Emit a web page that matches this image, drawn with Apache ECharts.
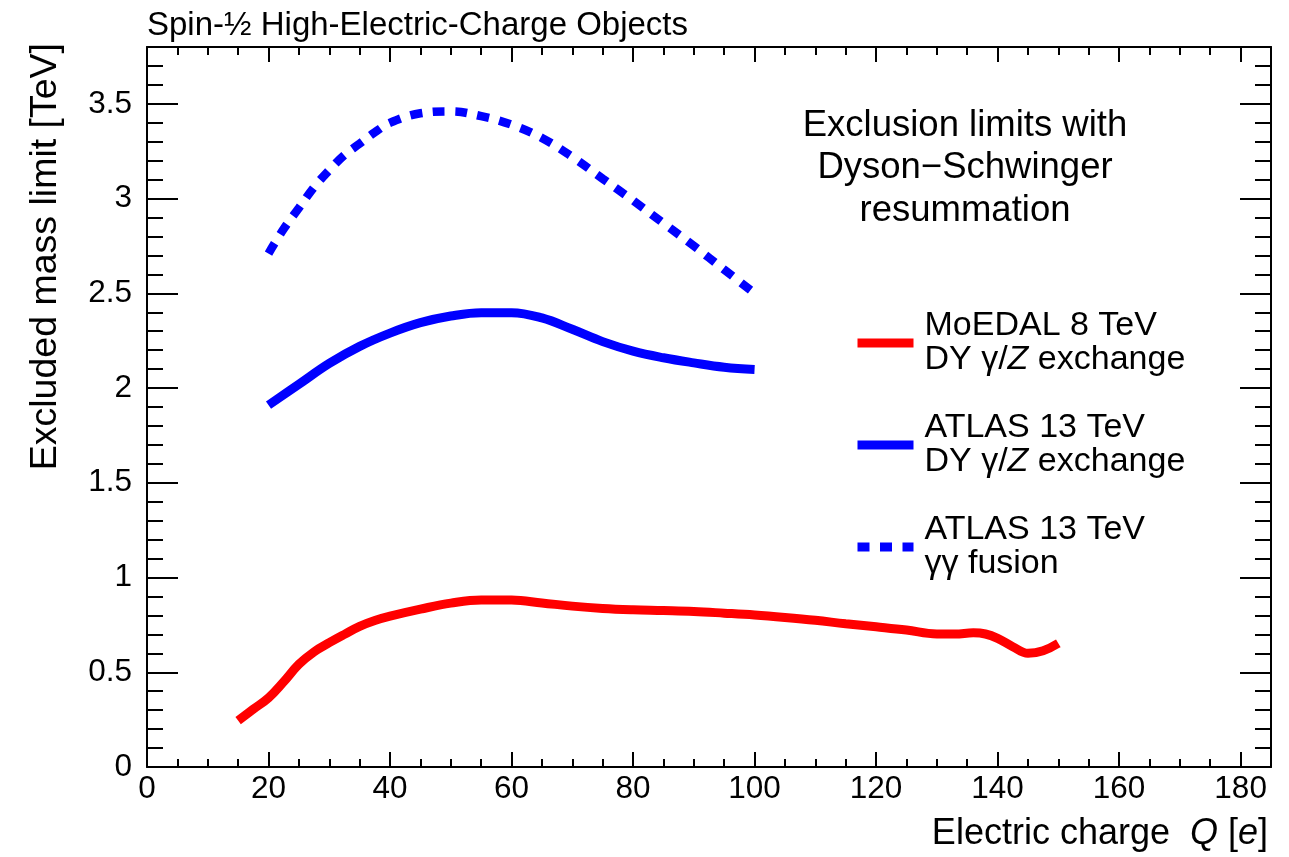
<!DOCTYPE html>
<html>
<head>
<meta charset="utf-8">
<script src="https://cdn.jsdelivr.net/npm/echarts@6/dist/echarts.min.js"></script>
<style>
  html, body { margin: 0; padding: 0; background: #fff; }
  #chart { width: 1289px; height: 857px; }
</style>
</head>
<body>
<div id="chart"></div>
<script>
// Electric charge Q [e] and excluded mass limit [TeV] for each curve
const moedalQ    = [15, 17.5, 20, 22.5, 25, 27.5, 30, 32.5, 35, 37.5, 40, 45, 50, 55, 60, 65, 70, 75, 80, 85, 90, 95, 100, 105, 110, 115, 120, 125, 130, 133, 136, 138, 140, 142.5, 145, 147.5, 150];
const moedalMass = [0.245, 0.305, 0.365, 0.45, 0.542, 0.608, 0.656, 0.70, 0.742, 0.773, 0.796, 0.833, 0.865, 0.882, 0.881, 0.866, 0.849, 0.837, 0.83, 0.826, 0.821, 0.812, 0.802, 0.789, 0.774, 0.756, 0.74, 0.723, 0.702, 0.702, 0.708, 0.702, 0.679, 0.635, 0.60, 0.614, 0.653];

const atlasDyQ    = [20, 25, 30, 35, 40, 45, 50, 55, 60, 65, 70, 75, 80, 85, 90, 95, 100];
const atlasDyMass = [1.91, 2.02, 2.13, 2.22, 2.29, 2.345, 2.38, 2.398, 2.398, 2.37, 2.31, 2.245, 2.195, 2.16, 2.133, 2.11, 2.098];

const atlasGgQ    = [20, 22.5, 25, 27.5, 30, 32.5, 35, 37.5, 40, 45, 50, 55, 60, 65, 70, 75, 80, 85, 90, 95, 100];
const atlasGgMass = [2.71, 2.84, 2.95, 3.06, 3.15, 3.23, 3.29, 3.35, 3.40, 3.45, 3.46, 3.435, 3.39, 3.32, 3.22, 3.105, 2.99, 2.87, 2.75, 2.625, 2.50];

const seriesNames = ['MoEDAL 8 TeV', 'ATLAS 13 TeV DY', 'ATLAS 13 TeV γγ'];
const legendLabels = {
  'MoEDAL 8 TeV': 'MoEDAL 8 TeV\nDY γ/{i|Z} exchange',
  'ATLAS 13 TeV DY': 'ATLAS 13 TeV\nDY γ/{i|Z} exchange',
  'ATLAS 13 TeV γγ': 'ATLAS 13 TeV\nγγ fusion'
};

// Axis tick positions and labels
const xMajorTicks = [0, 20, 40, 60, 80, 100, 120, 140, 160, 180];
const xMinorTicks = [5, 10, 15, 25, 30, 35, 45, 50, 55, 65, 70, 75, 85, 90, 95, 105, 110, 115, 125, 130, 135, 145, 150, 155, 165, 170, 175];
const yMajorTicks = [0, 0.5, 1, 1.5, 2, 2.5, 3, 3.5];
const yMinorTicks = [0.1, 0.2, 0.3, 0.4, 0.6, 0.7, 0.8, 0.9, 1.1, 1.2, 1.3, 1.4, 1.6, 1.7, 1.8, 1.9, 2.1, 2.2, 2.3, 2.4, 2.6, 2.7, 2.8, 2.9, 3.1, 3.2, 3.3, 3.4, 3.6, 3.7];

const FONT = '"Liberation Sans", Arial, Helvetica, sans-serif';
const X_MIN = 0, X_MAX = 185, Y_MIN = 0, Y_MAX = 3.8;

function pairs(xs, ys) { return xs.map((x, i) => [x, ys[i]]); }

function makeAxis(kind, position, ticks, tickLen, withLine, withLabels) {
  const isX = kind === 'x';
  return {
    type: 'value',
    position: position,
    min: isX ? X_MIN : Y_MIN,
    max: isX ? X_MAX : Y_MAX,
    splitLine: { show: false },
    axisLine: { show: withLine, onZero: false, lineStyle: { color: '#000', width: 2 } },
    axisTick: {
      show: true, inside: true, length: tickLen, customValues: ticks,
      lineStyle: { color: '#000', width: 2 }
    },
    axisLabel: withLabels ? {
      show: true, customValues: ticks, color: '#000', fontFamily: FONT, fontSize: 31.5,
      margin: isX ? 6 : 15
    } : { show: false }
  };
}

const chart = echarts.init(document.getElementById('chart'), null, { renderer: 'canvas' });

chart.setOption({
  animation: false,
  backgroundColor: '#fff',
  grid: { left: 147, right: 18, top: 47, bottom: 90, containLabel: false, outerBoundsMode: 'none' },
  xAxis: [
    makeAxis('x', 'bottom', xMajorTicks, 15, true, true),
    makeAxis('x', 'bottom', xMinorTicks, 8, false, false),
    makeAxis('x', 'top', xMajorTicks, 15, true, false),
    makeAxis('x', 'top', xMinorTicks, 8, false, false)
  ],
  yAxis: [
    makeAxis('y', 'left', yMajorTicks, 31, true, true),
    makeAxis('y', 'left', yMinorTicks, 16, false, false),
    makeAxis('y', 'right', yMajorTicks, 31, true, false),
    makeAxis('y', 'right', yMinorTicks, 16, false, false)
  ],
  legend: {
    data: seriesNames,
    orient: 'vertical',
    left: 853,
    top: 309,
    padding: 0,
    itemGap: 34,
    itemWidth: 56,
    itemHeight: 9,
    selectedMode: false,
    lineStyle: { width: 9 },
    itemStyle: { opacity: 0, borderWidth: 0 },
    formatter: name => legendLabels[name],
    textStyle: {
      color: '#000', fontFamily: FONT, fontSize: 34, lineHeight: 34, padding: [0, 0, 0, 6],
      rich: { i: { fontStyle: 'italic', fontFamily: FONT, fontSize: 34, lineHeight: 34, color: '#000' } }
    }
  },
  series: [
    {
      name: seriesNames[0], type: 'line', data: pairs(moedalQ, moedalMass),
      symbol: 'none', smooth: 0.4, xAxisIndex: 0, yAxisIndex: 0,
      lineStyle: { color: '#ff0000', width: 9 }, itemStyle: { color: '#ff0000' }
    },
    {
      name: seriesNames[1], type: 'line', data: pairs(atlasDyQ, atlasDyMass),
      symbol: 'none', smooth: 0.4, xAxisIndex: 0, yAxisIndex: 0,
      lineStyle: { color: '#0000ff', width: 9 }, itemStyle: { color: '#0000ff' }
    },
    {
      name: seriesNames[2], type: 'line', data: pairs(atlasGgQ, atlasGgMass),
      symbol: 'none', smooth: 0.4, xAxisIndex: 0, yAxisIndex: 0,
      lineStyle: { color: '#0000ff', width: 8.5, type: [12, 10.5], cap: 'butt' }, itemStyle: { color: '#0000ff' }
    }
  ],
  graphic: [
    {
      type: 'text', x: 147, y: 26,
      style: { text: 'Spin-½ High-Electric-Charge Objects', fill: '#000', fontFamily: FONT, fontSize: 33, align: 'left', verticalAlign: 'middle' }
    },
    {
      type: 'text', x: 46, y: 43, rotation: Math.PI / 2,
      style: { text: 'Excluded mass limit [TeV]', fill: '#000', fontFamily: FONT, fontSize: 37.5, align: 'right', verticalAlign: 'middle' }
    },
    {
      type: 'text', x: 1268, y: 834,
      style: {
        text: 'Electric charge  {i|Q} [{i|e}]', fill: '#000', fontFamily: FONT, fontSize: 36, align: 'right', verticalAlign: 'middle',
        rich: { i: { fontStyle: 'italic', fontFamily: FONT, fontSize: 36, fill: '#000' } }
      }
    },
    {
      type: 'text', x: 965, y: 168,
      style: {
        text: 'Exclusion limits with\nDyson\u2212Schwinger\nresummation', fill: '#000', fontFamily: FONT, fontSize: 36.5,
        lineHeight: 42.5, align: 'center', verticalAlign: 'middle'
      }
    }
  ]
});
</script>
</body>
</html>
